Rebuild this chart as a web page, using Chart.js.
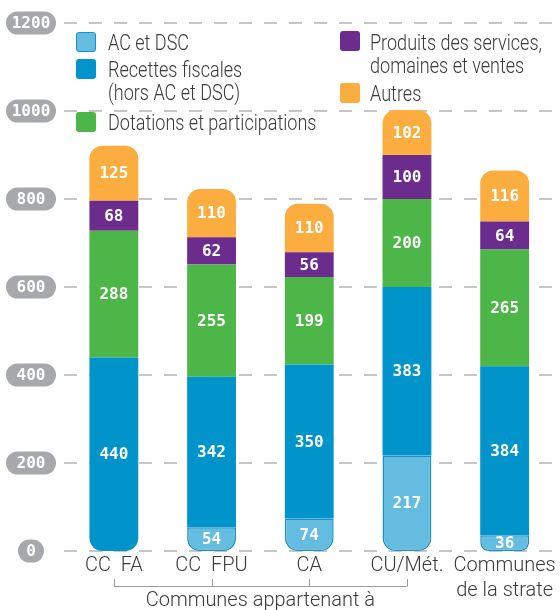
<!DOCTYPE html>
<html><head><meta charset="utf-8">
<script src="https://cdn.jsdelivr.net/npm/chart.js@4.4.1/dist/chart.umd.min.js"></script>
<style>
html,body{margin:0;padding:0;background:#fff;}
#wrap{position:relative;width:560px;height:610px;overflow:hidden;}
canvas{position:absolute;left:0;top:0;}
.sw{position:absolute;width:20px;height:20px;border-radius:3px;box-sizing:border-box;}
.lt{position:absolute;font-family:Roboto,sans-serif;font-weight:300;font-size:22px;line-height:22px;color:#3a3a3a;white-space:nowrap;transform:scaleX(0.82);transform-origin:0 0;}
</style></head>
<body><div id="wrap"><canvas id="c" width="560" height="610"></canvas>
<div class="sw" style="left:76px;top:32px;background:#64bce1;border:1.5px solid #1a90c9"></div>
<div class="lt" style="left:108px;top:32px">AC et DSC</div>
<div class="sw" style="left:76px;top:59px;background:#0094cb"></div>
<div class="lt" style="left:108px;top:59px">Recettes fiscales</div>
<div class="lt" style="left:108px;top:81.5px">(hors AC et DSC)</div>
<div class="sw" style="left:76px;top:112px;background:#4cb748"></div>
<div class="lt" style="left:108px;top:111.5px">Dotations et participations</div>
<div class="sw" style="left:340px;top:31px;background:#6c2c8e"></div>
<div class="lt" style="left:370px;top:31.5px">Produits des services,</div>
<div class="lt" style="left:370px;top:54.5px">domaines et ventes</div>
<div class="sw" style="left:340px;top:83px;background:#fbad40"></div>
<div class="lt" style="left:370px;top:82.5px">Autres</div>
</div>
<script>
const categories = ['CC  FA', 'CC  FPU', 'CA', 'CU/Mét.', ['Communes', 'de la strate']];
const seriesNames = ['AC et DSC', 'Recettes fiscales (hors AC et DSC)', 'Dotations et participations', 'Produits des services, domaines et ventes', 'Autres'];
const acDsc = [0, 54, 74, 217, 36];
const recettes = [440, 342, 350, 383, 384];
const dotations = [288, 255, 199, 200, 265];
const produits = [68, 62, 56, 100, 64];
const autres = [125, 110, 110, 102, 116];
const yTickValues = [0, 200, 400, 600, 800, 1000, 1200];
const yTickLabels = ['0', '200', '400', '600', '800', '1000', '1200'];
const groupLabel = 'Communes appartenant à';
const groupMembers = [0, 1, 2, 3];

const colors = ['#64bce1', '#0094cb', '#4cb748', '#6c2c8e', '#fbad40'];
const seriesData = [acDsc, recettes, dotations, produits, autres];

function radiusFor(ctx) {
  const i = ctx.dataIndex, k = ctx.datasetIndex;
  const sets = ctx.chart.data.datasets;
  let first = -1, last = -1;
  sets.forEach((d, j) => { if (d.data[i] > 0) { if (first < 0) first = j; last = j; } });
  const r = 13;
  return {
    topLeft: k === last ? r : 0, topRight: k === last ? r : 0,
    bottomLeft: k === first ? r : 0, bottomRight: k === first ? r : 0
  };
}

const datasets = seriesData.map((d, k) => ({
  label: seriesNames[k],
  data: d,
  backgroundColor: colors[k],
  borderColor: '#1a90c9',
  borderWidth: (ctx) => (k === 0 && ctx.raw > 0) ? 1.5 : 0,
  borderSkipped: false,
  borderRadius: radiusFor,
  categoryPercentage: 1,
  barPercentage: 0.5
}));

function roundRect(ctx, x, y, w, h, r) {
  ctx.beginPath();
  ctx.moveTo(x + r, y);
  ctx.arcTo(x + w, y, x + w, y + h, r);
  ctx.arcTo(x + w, y + h, x, y + h, r);
  ctx.arcTo(x, y + h, x, y, r);
  ctx.arcTo(x, y, x + w, y, r);
  ctx.closePath();
}

const decor = {
  id: 'decor',
  beforeDatasetsDraw(chart) {
    const ctx = chart.ctx, ys = chart.scales.y;
    ctx.save();
    ctx.strokeStyle = '#b4b4b4';
    ctx.lineWidth = 1.5;
    ctx.setLineDash([13, 12]);
    ys.ticks.forEach(t => {
      const y = Math.round(ys.getPixelForValue(t.value));
      ctx.beginPath();
      ctx.moveTo(64, y);
      ctx.lineTo(560, y);
      ctx.stroke();
    });
    ctx.setLineDash([]);
    ys.ticks.forEach((t, idx) => {
      const y = ys.getPixelForValue(t.value);
      const label = yTickLabels[yTickValues.indexOf(t.value)];
      const w = label.length > 1 ? 50 : 26;
      const h = 23;
      ctx.fillStyle = '#a7a8ab';
      roundRect(ctx, 31 - w / 2, y - h / 2, w, h, h / 2);
      ctx.fill();
      ctx.fillStyle = '#ffffff';
      ctx.font = 'bold 16px "DejaVu Sans Mono"';
      ctx.textAlign = 'center';
      ctx.textBaseline = 'middle';
      ctx.fillText(label, 31, y + 1);
    });
    ctx.restore();
  },
  afterDatasetsDraw(chart) {
    const ctx = chart.ctx;
    ctx.save();
    ctx.fillStyle = '#ffffff';
    ctx.font = 'bold 16px "DejaVu Sans Mono"';
    ctx.textAlign = 'center';
    ctx.textBaseline = 'middle';
    chart.data.datasets.forEach((ds, k) => {
      const meta = chart.getDatasetMeta(k);
      meta.data.forEach((el, i) => {
        const v = ds.data[i];
        if (!v) return;
        ctx.fillText(String(v), el.x, (el.y + el.base) / 2 + 1);
      });
    });
    ctx.restore();
  },
  afterDraw(chart) {
    const ctx = chart.ctx, xs = chart.scales.x;
    const xsPix = groupMembers.map(i => xs.getPixelForValue(i));
    ctx.save();
    ctx.strokeStyle = '#9a9a9a';
    ctx.lineWidth = 1;
    const yLine = 586.5, yTop = 579;
    ctx.beginPath();
    ctx.moveTo(xsPix[0], yLine);
    ctx.lineTo(xsPix[xsPix.length - 1], yLine);
    xsPix.forEach(x => { ctx.moveTo(Math.round(x) + 0.5, yTop); ctx.lineTo(Math.round(x) + 0.5, yLine); });
    ctx.stroke();
    ctx.fillStyle = '#3a3a3a';
    ctx.font = '300 20px Roboto';
    ctx.textAlign = 'center';
    ctx.textBaseline = 'alphabetic';
    ctx.fillText(groupLabel, (xsPix[0] + xsPix[xsPix.length - 1]) / 2, 606);
    ctx.restore();
  }
};

new Chart(document.getElementById('c'), {
  type: 'bar',
  data: { labels: categories, datasets },
  options: {
    responsive: false,
    animation: false,
    devicePixelRatio: 1,
    layout: { padding: { left: 0, right: 6.5, top: 23, bottom: 0 } },
    plugins: { legend: { display: false }, tooltip: { enabled: false } },
    scales: {
      x: {
        stacked: true,
        grid: { display: false, drawTicks: false },
        border: { display: false },
        ticks: {
          font: { family: 'Roboto', size: 20, weight: '300', lineHeight: 1.25 },
          color: '#3a3a3a', padding: 2, maxRotation: 0, autoSkip: false
        },
        afterFit(s) { s.height = 59; }
      },
      y: {
        stacked: true, min: 0, max: 1200,
        afterBuildTicks(s) { s.ticks = yTickValues.map(v => ({ value: v })); },
        ticks: { display: false },
        grid: { display: false },
        border: { display: false },
        afterFit(s) { s.width = 65; }
      }
    }
  },
  plugins: [decor]
});
</script>
</body></html>
